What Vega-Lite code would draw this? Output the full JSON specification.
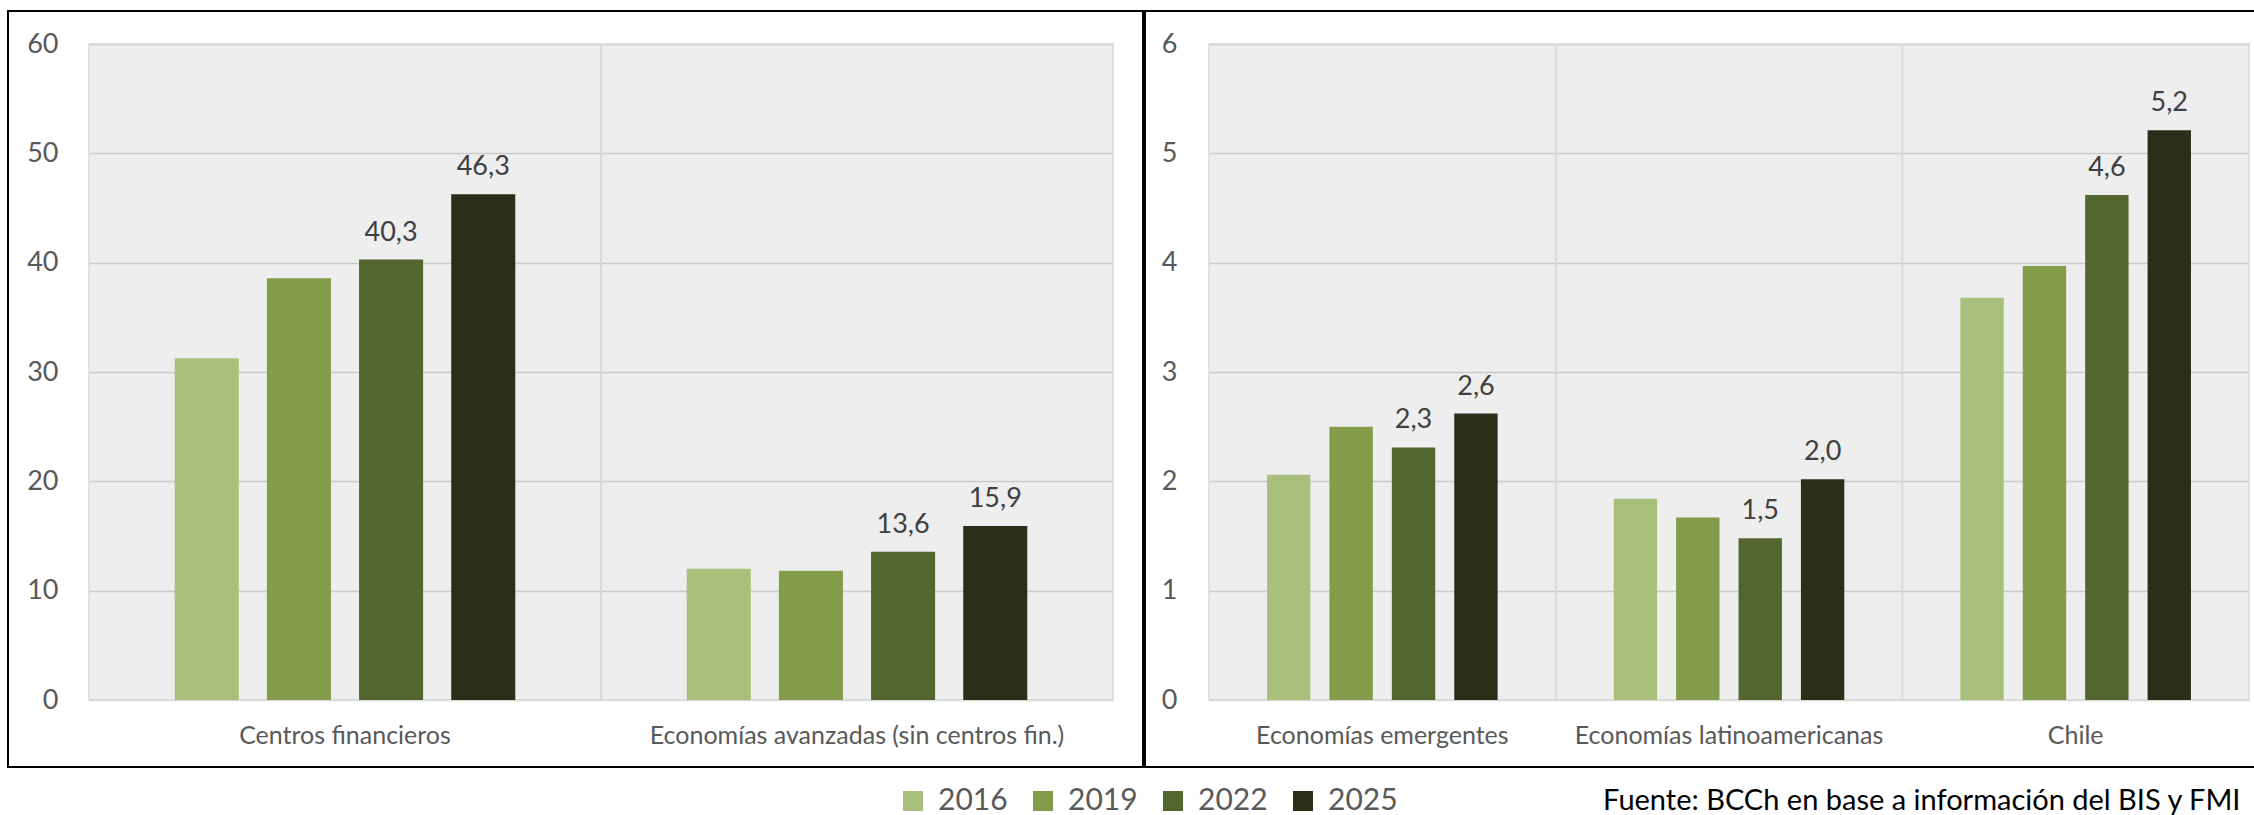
{
  "$schema": "https://vega.github.io/schema/vega-lite/v6.json",
  "background": "#ffffff",
  "padding": {"left": 7, "top": 10, "right": 0, "bottom": 0},
  "spacing": 0,
  "config": {
    "font": "Lato",
    "locale": {"number": {"decimal": ",", "thousands": ".", "grouping": [3], "currency": ["$", ""]}},
    "view": {"stroke": "#000000", "strokeWidth": 2, "fill": "#ffffff"},
    "concat": {"spacing": 0},
    "axis": {"labelFont": "Lato", "labelColor": "#595959", "domain": false, "ticks": false, "tickSize": 0, "labelLimit": 0}
  },
  "resolve": {"scale": {"x": "independent", "y": "independent", "xOffset": "independent", "color": "shared"}},
  "datasets": {
    "left": [
      {"category": "Centros financieros", "year": "2016", "value": 31.25},
      {"category": "Centros financieros", "year": "2019", "value": 38.57},
      {"category": "Centros financieros", "year": "2022", "value": 40.28},
      {"category": "Centros financieros", "year": "2025", "value": 46.26},
      {"category": "Economías avanzadas (sin centros fin.)", "year": "2016", "value": 12.01},
      {"category": "Economías avanzadas (sin centros fin.)", "year": "2019", "value": 11.83},
      {"category": "Economías avanzadas (sin centros fin.)", "year": "2022", "value": 13.56},
      {"category": "Economías avanzadas (sin centros fin.)", "year": "2025", "value": 15.92}
    ],
    "right": [
      {"category": "Economías emergentes", "year": "2016", "value": 2.06},
      {"category": "Economías emergentes", "year": "2019", "value": 2.50},
      {"category": "Economías emergentes", "year": "2022", "value": 2.31},
      {"category": "Economías emergentes", "year": "2025", "value": 2.62},
      {"category": "Economías latinoamericanas", "year": "2016", "value": 1.84},
      {"category": "Economías latinoamericanas", "year": "2019", "value": 1.67},
      {"category": "Economías latinoamericanas", "year": "2022", "value": 1.48},
      {"category": "Economías latinoamericanas", "year": "2025", "value": 2.02},
      {"category": "Chile", "year": "2016", "value": 3.68},
      {"category": "Chile", "year": "2019", "value": 3.97},
      {"category": "Chile", "year": "2022", "value": 4.62},
      {"category": "Chile", "year": "2025", "value": 5.21}
    ]
  },
  "hconcat": [
    {
      "width": 1135,
      "height": 756,
      "data": {"name": "left"},
      "encoding": {
        "x": {
          "field": "category", "type": "nominal",
          "scale": {"domain": ["Centros financieros", "Economías avanzadas (sin centros fin.)"], "range": [81, 1105], "paddingInner": 0, "paddingOuter": 0},
          "axis": {"orient": "bottom", "offset": -67, "labelPadding": 23, "labelFontSize": 25, "labelAngle": 0, "labelLimit": 0, "grid": false, "title": null}
        }
      },
      "layer": [
        {
          "transform": [{"aggregate": [{"op": "count", "as": "n"}], "groupby": ["category"]}],
          "mark": {"type": "rect", "fill": "#000000", "fillOpacity": 0.065, "stroke": "#d9d9d9", "strokeWidth": 1.5},
          "encoding": {
            "y": {"datum": 60, "type": "quantitative",
              "scale": {"domain": [0, 60], "range": [689, 33], "nice": false, "zero": true},
              "axis": {"orient": "left", "offset": -81, "values": [0, 10, 20, 30, 40, 50, 60], "format": "d", "labelPadding": 31, "labelFontSize": 27, "grid": true, "gridColor": "#d9d9d9", "gridWidth": 1.5, "title": null}},
            "y2": {"datum": 0}
          }
        },
        {
          "mark": {"type": "bar"},
          "encoding": {
            "xOffset": {"field": "year", "type": "nominal", "scale": {"paddingInner": 0.305, "paddingOuter": 0.93}},
            "y": {"field": "value", "type": "quantitative"},
            "color": {"field": "year", "type": "nominal",
              "scale": {"domain": ["2016", "2019", "2022", "2025"], "range": ["#a9c07d", "#829c4a", "#546630", "#292f19"]},
              "legend": {"orient": "none", "legendX": 890, "legendY": 775, "direction": "horizontal", "title": null, "symbolType": "square", "symbolSize": 400, "symbolStrokeWidth": 0, "labelFont": "Lato", "labelFontSize": 30, "labelColor": "#595959", "labelOffset": 10, "columnPadding": 20, "padding": 0}}
          }
        },
        {
          "transform": [{"filter": "datum.year == '2022' || datum.year == '2025'"}],
          "mark": {"type": "text", "baseline": "alphabetic", "dy": -19, "fontSize": 27, "color": "#404040", "font": "Lato"},
          "encoding": {
            "xOffset": {"field": "year", "type": "nominal"},
            "y": {"field": "value", "type": "quantitative"},
            "text": {"field": "value", "type": "quantitative", "format": ".1f"}
          }
        }
      ]
    },
    {
      "width": 1111,
      "height": 756,
      "data": {"name": "right"},
      "encoding": {
        "x": {
          "field": "category", "type": "nominal",
          "scale": {"domain": ["Economías emergentes", "Economías latinoamericanas", "Chile"], "range": [64, 1104], "paddingInner": 0, "paddingOuter": 0},
          "axis": {"orient": "bottom", "offset": -67, "labelPadding": 23, "labelFontSize": 25, "labelAngle": 0, "labelLimit": 0, "grid": false,
            "title": "Fuente: BCCh en base a información del BIS y FMI", "titleX": 1095, "titleY": 109, "titleAlign": "right", "titleAnchor": "end", "titleBaseline": "alphabetic", "titleFont": "Lato", "titleFontSize": 29, "titleFontWeight": "normal", "titleColor": "#000000", "titleLimit": 0}
        }
      },
      "layer": [
        {
          "transform": [{"aggregate": [{"op": "count", "as": "n"}], "groupby": ["category"]}],
          "mark": {"type": "rect", "fill": "#000000", "fillOpacity": 0.065, "stroke": "#d9d9d9", "strokeWidth": 1.5},
          "encoding": {
            "y": {"datum": 6, "type": "quantitative",
              "scale": {"domain": [0, 6], "range": [689, 33], "nice": false, "zero": true},
              "axis": {"orient": "left", "offset": -64, "values": [0, 1, 2, 3, 4, 5, 6], "format": "d", "labelPadding": 32, "labelFontSize": 27, "grid": true, "gridColor": "#d9d9d9", "gridWidth": 1.5, "title": null}},
            "y2": {"datum": 0}
          }
        },
        {
          "mark": {"type": "bar"},
          "encoding": {
            "xOffset": {"field": "year", "type": "nominal", "scale": {"paddingInner": 0.305, "paddingOuter": 0.93}},
            "y": {"field": "value", "type": "quantitative"},
            "color": {"field": "year", "type": "nominal",
              "scale": {"domain": ["2016", "2019", "2022", "2025"], "range": ["#a9c07d", "#829c4a", "#546630", "#292f19"]},
              "legend": {"orient": "none", "legendX": 890, "legendY": 775, "direction": "horizontal", "title": null, "symbolType": "square", "symbolSize": 400, "symbolStrokeWidth": 0, "labelFont": "Lato", "labelFontSize": 30, "labelColor": "#595959", "labelOffset": 10, "columnPadding": 20, "padding": 0}}
          }
        },
        {
          "transform": [{"filter": "datum.year == '2022' || datum.year == '2025'"}],
          "mark": {"type": "text", "baseline": "alphabetic", "dy": -19, "fontSize": 27, "color": "#404040", "font": "Lato"},
          "encoding": {
            "xOffset": {"field": "year", "type": "nominal"},
            "y": {"field": "value", "type": "quantitative"},
            "text": {"field": "value", "type": "quantitative", "format": ".1f"}
          }
        }
      ]
    }
  ]
}
